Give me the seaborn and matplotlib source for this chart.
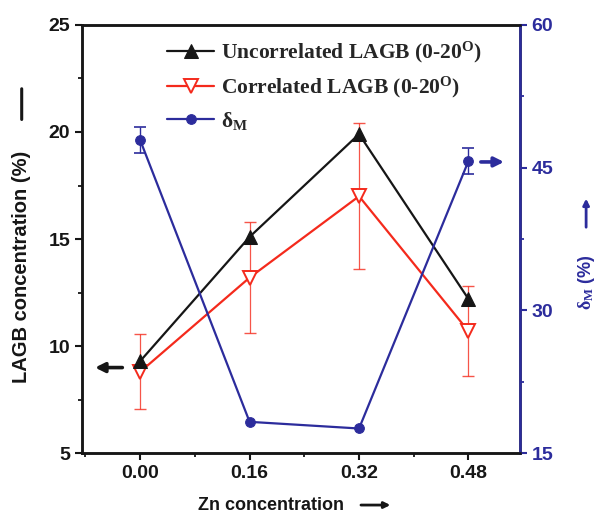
import numpy as np
import pandas as pd
import matplotlib
matplotlib.use("Agg")
import matplotlib.pyplot as plt
import seaborn as sns
from matplotlib.ticker import MultipleLocator

# Zn concentration levels
zn = [0.00, 0.16, 0.32, 0.48]

# LAGB concentration (%)
uncorrelated = [9.3, 15.1, 19.9, 12.2]
correlated = [8.8, 13.2, 17.0, 10.7]
correlated_err = [1.75, 2.6, 3.4, 2.1]

# delta_M (%)
delta_m = [47.9, 18.3, 17.6, 45.7]
delta_m_err = [1.4, 0.0, 0.0, 1.35]

BLACK = "#161616"
RED = "#f42a1c"
BLUE = "#2c2c9c"

sns.set_style("ticks")
plt.rcParams["font.family"] = ["Liberation Sans", "DejaVu Sans"]
plt.rcParams["mathtext.fontset"] = "custom"
plt.rcParams["mathtext.rm"] = "Liberation Serif:bold"
plt.rcParams["mathtext.it"] = "Liberation Serif:bold"
plt.rcParams["mathtext.bf"] = "Liberation Serif:bold"

fig = plt.figure(figsize=(6.03, 5.18), dpi=100)
ax = fig.add_axes([0.136, 0.125, 0.726, 0.827])
ax2 = ax.twinx()

df = pd.DataFrame({"zn": zn, "unc": uncorrelated, "cor": correlated, "dm": delta_m})

# error bars first so markers sit on top
ax.errorbar(zn, correlated, yerr=correlated_err, fmt="none", ecolor=RED,
            elinewidth=0.9, capsize=4, capthick=1.0, alpha=0.8, zorder=2)
ax2.errorbar([zn[0], zn[3]], [delta_m[0], delta_m[3]],
             yerr=[delta_m_err[0], delta_m_err[3]], fmt="none", ecolor=BLUE,
             elinewidth=1.0, capsize=4, capthick=1.2, zorder=2)

sns.lineplot(data=df, x="zn", y="unc", ax=ax, color=BLACK, lw=1.6,
             marker="^", markersize=10, markerfacecolor=BLACK,
             markeredgecolor=BLACK, label="Uncorrelated LAGB (0-20$^{\\mathrm{O}}$)",
             zorder=4)
sns.lineplot(data=df, x="zn", y="cor", ax=ax, color=RED, lw=1.6,
             marker="v", markersize=10, markerfacecolor="white",
             markeredgecolor=RED, markeredgewidth=1.4,
             label="Correlated LAGB (0-20$^{\\mathrm{O}}$)", zorder=3)
sns.lineplot(data=df, x="zn", y="dm", ax=ax2, color=BLUE, lw=1.6,
             marker="o", markersize=7, markerfacecolor=BLUE,
             markeredgecolor=BLUE, label="$\\delta_{\\mathrm{M}}$", legend=False,
             zorder=3)

ax.set_xlim(-0.085, 0.555)
ax.set_ylim(5, 25)
ax2.set_ylim(15, 60)

ax.set_xticks(zn)
ax.set_xticklabels([f"{v:.2f}" for v in zn])
ax.xaxis.set_minor_locator(MultipleLocator(0.08))
ax.set_yticks([5, 10, 15, 20, 25])
ax.yaxis.set_minor_locator(MultipleLocator(2.5))
ax2.set_yticks([15, 30, 45, 60])
ax2.yaxis.set_minor_locator(MultipleLocator(7.5))

for a in (ax, ax2):
    for s in a.spines.values():
        s.set_linewidth(1.8)
        s.set_color(BLACK)
ax2.spines["right"].set_color(BLUE)

ax.tick_params(axis="both", which="major", direction="out", length=5, width=1.5,
               labelsize=14, colors=BLACK)
ax.tick_params(axis="both", which="minor", direction="out", length=3, width=1.3,
               colors=BLACK)
ax2.tick_params(axis="y", which="major", direction="out", length=5, width=1.5,
                labelsize=14, colors=BLUE)
ax2.tick_params(axis="y", which="minor", direction="out", length=3, width=1.3,
                colors=BLUE)
for lab in ax.get_xticklabels() + ax.get_yticklabels() + ax2.get_yticklabels():
    lab.set_fontweight("bold")

ax.set_xlabel("")
ax.set_ylabel("")
ax2.set_ylabel("")

# axis titles, each followed by a direction arrow
fig.text(0.45, 0.025, "Zn concentration", ha="center", va="center",
         fontsize=13, fontweight="bold", color=BLACK)
fig.text(0.036, 0.484, "LAGB concentration (%)", ha="center", va="center",
         rotation=90, fontsize=14.5, fontweight="bold", color=BLACK)
fig.text(0.972, 0.455, "$\\delta_{\\mathrm{M}}$ (%)", ha="center", va="center",
         rotation=90, fontsize=13, fontweight="bold", color=BLUE)

fig_arrow = dict(xycoords="figure fraction", textcoords="figure fraction")
ax.annotate("", xy=(0.652, 0.025), xytext=(0.594, 0.025), **fig_arrow,
            arrowprops=dict(arrowstyle="-|>", color=BLACK, lw=2.0,
                            mutation_scale=9))
ax.annotate("", xy=(0.036, 0.834), xytext=(0.036, 0.764), **fig_arrow,
            arrowprops=dict(arrowstyle="-", color=BLACK, lw=2.2))
ax.annotate("", xy=(0.972, 0.622), xytext=(0.972, 0.556), **fig_arrow,
            arrowprops=dict(arrowstyle="-|>", color=BLUE, lw=2.0,
                            mutation_scale=9))

# arrows pointing each series to its own axis
ax.annotate("", xy=(-0.070, 9.0), xytext=(-0.022, 9.0),
            arrowprops=dict(arrowstyle="-|>", color=BLACK, lw=2.6,
                            mutation_scale=14))
ax2.annotate("", xy=(0.536, 45.6), xytext=(0.494, 45.6),
             arrowprops=dict(arrowstyle="-|>", color=BLUE, lw=2.6,
                             mutation_scale=14))

h1, l1 = ax.get_legend_handles_labels()
h2 = ax2.get_lines()[-1]
leg = ax.legend(h1 + [h2], l1 + ["$\\delta_{\\mathrm{M}}$"], loc="upper left",
                bbox_to_anchor=(0.16, 1.0), frameon=False, handlelength=2.2,
                handletextpad=0.3, labelspacing=0.45, borderaxespad=0.3,
                prop={"family": "Liberation Serif", "weight": "bold", "size": 15.5})

fig.savefig("out.png", dpi=100)
